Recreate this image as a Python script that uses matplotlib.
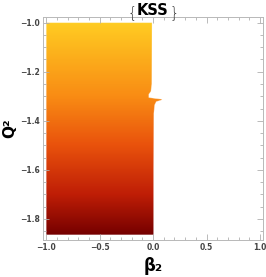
import numpy as np
import matplotlib
matplotlib.use("Agg")
import matplotlib.pyplot as plt
from matplotlib.colors import LinearSegmentedColormap
from matplotlib.patches import Polygon
from matplotlib.ticker import MultipleLocator

# allowed region: beta_2 from -1 up to a boundary that depends on Q^2
beta_min = -1.0
q2_top = -1.0
q2_bottom = -1.865
# right boundary of the region (Q^2, beta_2)
edge_q2 = [-1.0, -1.25, -1.28, -1.292, -1.305, -1.309, -1.312, -1.316, -1.322, -1.335, -1.37, -1.6, -1.865]
edge_beta = [-0.01, -0.012, -0.02, -0.04, -0.04, 0.02, 0.085, 0.075, 0.03, 0.015, 0.007, 0.005, 0.005]

# colour along Q^2 (top -> bottom)
col_q2 = [-1.0, -1.3, -1.5, -1.7, -1.865]
col_hex = ["#ffcc22", "#f98c14", "#e9520c", "#bf1e06", "#760000"]

fig = plt.figure(figsize=(2.66, 2.77), dpi=100)
ax = fig.add_axes([43/266, 37/277, 220/266, 223/277])

pos = [(q - q2_bottom) / (q2_top - q2_bottom) for q in col_q2[::-1]]
cmap = LinearSegmentedColormap.from_list("solar", list(zip(pos, col_hex[::-1])))

poly_pts = [(beta_min, q2_top)] + list(zip(edge_beta, edge_q2)) + [(beta_min, q2_bottom)]
poly = Polygon(poly_pts, closed=True, facecolor="none", edgecolor="none")
ax.add_patch(poly)

qq = np.linspace(q2_bottom, q2_top, 400).reshape(-1, 1)
im = ax.imshow(qq, cmap=cmap, origin="lower", aspect="auto",
               extent=[beta_min, 0.2, q2_bottom, q2_top],
               vmin=q2_bottom, vmax=q2_top, interpolation="bilinear")
im.set_clip_path(poly)
ax.add_patch(Polygon(poly_pts, closed=True, facecolor="none",
                     edgecolor="white", lw=0.6, alpha=0.35))

ax.set_xlim(-1.03, 1.028)
ax.set_ylim(-1.886, -0.977)
ax.xaxis.set_minor_locator(MultipleLocator(0.1))
ax.yaxis.set_minor_locator(MultipleLocator(0.05))
ax.set_xticks([-1.0, -0.5, 0.0, 0.5, 1.0])
ax.set_xticklabels(["\u22121.0", "\u22120.5", "0.0", "0.5", "1.0"])
ax.set_yticks([-1.0, -1.2, -1.4, -1.6, -1.8])
ax.set_yticklabels(["\u22121.0", "\u22121.2", "\u22121.4", "\u22121.6", "\u22121.8"])

ax.tick_params(which="both", direction="in", top=True, right=True,
               color="#b0b0b0", width=0.6, labelsize=5.5, labelcolor="#444444", pad=2)
ax.tick_params(which="major", length=4)
ax.tick_params(which="minor", length=2)
for lab in ax.get_xticklabels() + ax.get_yticklabels():
    lab.set_fontweight("bold")
for sp in ax.spines.values():
    sp.set_color("#b8b8b8")
    sp.set_linewidth(0.7)

ax.set_xlabel("\u03b2\u2082", fontsize=12, fontweight="bold", labelpad=4)
ax.set_ylabel("Q\u00b2", fontsize=11, fontweight="bold")
ax.yaxis.set_label_coords(-0.115, 0.5)

# title: thin braces around bold KSS
ax.text(0.5, 1.01, "KSS", transform=ax.transAxes, ha="center", va="baseline",
        fontsize=10.5, fontweight="bold")
ax.text(0.404, 1.0, "{", transform=ax.transAxes, ha="center", va="baseline",
        fontsize=10.5, fontweight="light", color="#333333")
ax.text(0.598, 1.0, "}", transform=ax.transAxes, ha="center", va="baseline",
        fontsize=10.5, fontweight="light", color="#333333")

fig.savefig("out.png", dpi=100)
